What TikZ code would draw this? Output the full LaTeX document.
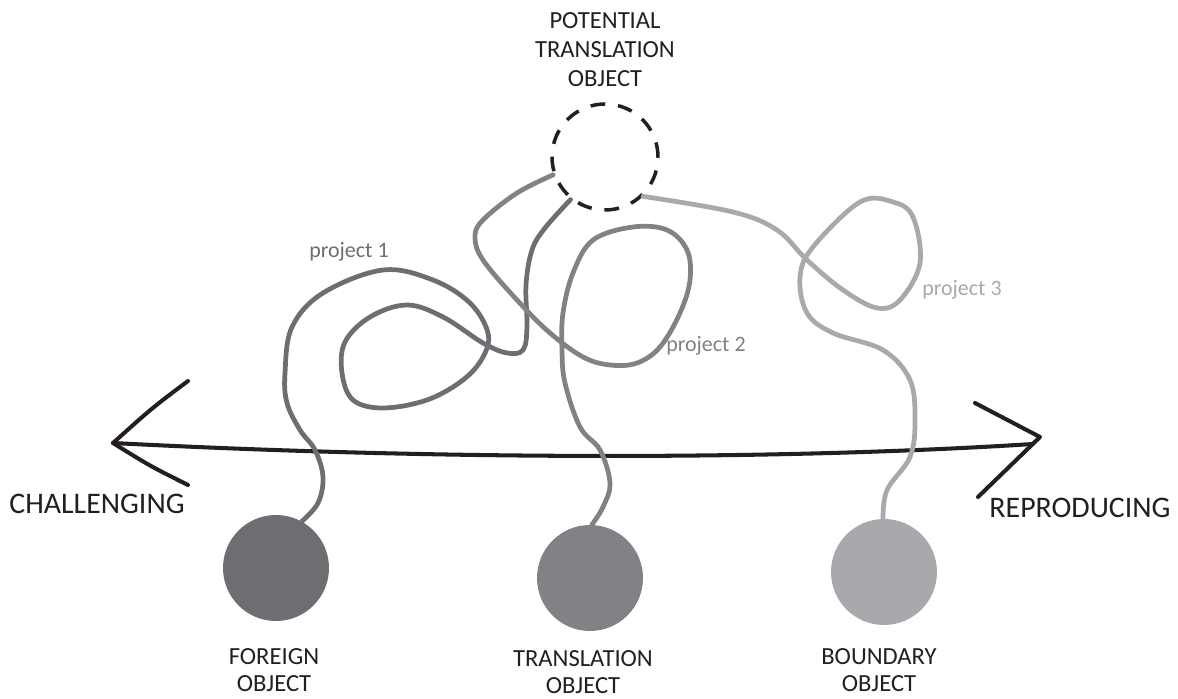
\documentclass[tikz,border=0pt]{standalone}
\usepackage{fontspec}
\setmainfont{Carlito}
\usetikzlibrary{positioning}
\definecolor{fogray}{HTML}{6D6E71}
\definecolor{trgray}{HTML}{808285}
\definecolor{bogray}{HTML}{A7A9AC}
\definecolor{inkblack}{HTML}{231F20}

\begin{document}
\begin{tikzpicture}[
    x=0.02cm, y=-0.02cm,
    head/.style={font=\fontsize{14}{16.5}\selectfont, align=center, text=inkblack},
    objhead/.style={font=\fontsize{14}{15.5}\selectfont, align=center, text=inkblack},
    pole/.style={font=\fontsize{17}{20}\selectfont, text=inkblack},
    objdot/.style={circle, minimum size=2.12cm, inner sep=0pt},
    potential/.style={circle, draw=inkblack, line width=2pt, dash pattern=on 8.4pt off 7.35pt, minimum size=2.12cm, inner sep=0pt},
    projline/.style={line width=2.7pt, line cap=round, line join=round},
    projlabel/.style={font=\fontsize{12.5}{15}\selectfont},
    axis/.style={line width=2.3pt, draw=inkblack, line cap=round, line join=round}
]
\useasboundingbox (0,0) rectangle (1178,699);

\node[head] (ptolabel) at (605,50) {POTENTIAL\\TRANSLATION\\OBJECT};
\node[potential] (pto) at (605,157) {};

\node[objdot, fill=fogray] (fo) at (276,568) {};
\node[objdot, fill=trgray] (to) at (590,578) {};
\node[objdot, fill=bogray] (bo) at (884,572) {};

\node[objhead] (folabel) at (274,670) {FOREIGN\\OBJECT};
\node[objhead] (tolabel) at (583,672) {TRANSLATION\\OBJECT};
\node[objhead] (bolabel) at (879,670) {BOUNDARY\\OBJECT};

\node[pole] (chal) at (97,504) {CHALLENGING};
\node[pole] (repr) at (1080,508) {REPRODUCING};

\coordinate (lefttip) at (113,443);
\coordinate (leftup) at (188,381);
\coordinate (leftdown) at (188,485);
\coordinate (righttip) at (1040,437);
\coordinate (rightup) at (975,403);
\coordinate (rightdown) at (978,497);
\coordinate (rightend) at (1033,444);

\draw[axis] (lefttip) .. controls (400,458) and (750,462) .. (rightend);
\draw[axis] (leftup) .. controls (152,408) .. (lefttip) .. controls (150,466) .. (leftdown);
\draw[axis] (rightup) -- (righttip) -- (rightdown);

\draw[projline, draw=fogray] plot[smooth, tension=0.6] coordinates {
    (fo.61) (318,503) (323,477) (315,450) (300,430) (287,403) (285,373)
    (292,327) (323,293) (383,270) (433,280) (470,303) (488,333) (483,357)
    (463,380) (427,400) (383,408) (353,400) (342,373) (345,342) (370,317)
    (407,305) (443,317) (483,343) (507,353) (523,350) (527,327) (526,285)
    (532,250) (545,228) (pto.231)};

\draw[projline, draw=trgray] plot[smooth, tension=0.6] coordinates {
    (to.88) (603,507) (610,483) (600,450) (580,427) (565,383) (562,350)
    (563,313) (573,273) (593,240) (633,227) (667,230) (687,250) (690,280)
    (680,313) (660,347) (637,363) (610,365) (583,357) (550,333) (517,300)
    (483,260) (475,237) (483,220) (517,193) (pto.199)};

\draw[projline, draw=bogray] plot[smooth, tension=0.6] coordinates {
    (bo.91) (887,490) (910,457) (915,420) (910,380) (883,350) (833,333)
    (807,313) (800,277) (813,247) (860,202) (893,202) (913,217) (920,263)
    (900,300) (877,308) (843,290) (807,260) (777,230) (733,212) (pto.314)};

\node[projlabel, text=fogray] (p1) at (349,252) {project 1};
\node[projlabel, text=trgray] (p2) at (706,346) {project 2};
\node[projlabel, text=bogray] (p3) at (962,290) {project 3};
\end{tikzpicture}
\end{document}
